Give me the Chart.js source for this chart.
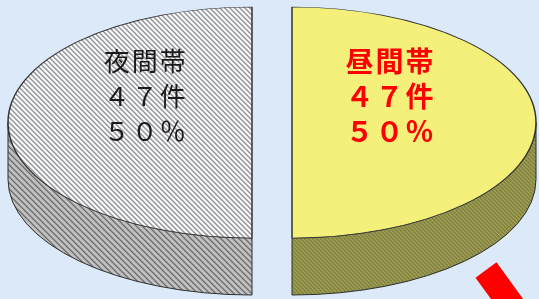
<!DOCTYPE html>
<html>
<head>
<meta charset="utf-8">
<script src="https://cdn.jsdelivr.net/npm/chart.js@4.4.1/dist/chart.umd.min.js"></script>
<style>
html, body { margin: 0; padding: 0; background: #dce9f9; overflow: hidden; }
#wrap { position: relative; width: 539px; height: 299px; }
#redMark { position: absolute; left: 473px; top: 270px; width: 26px; height: 70px; background: #ff0000;
           transform-origin: 50% 0; transform: rotate(-36deg); }
</style>
</head>
<body>
<div id="wrap">
  <canvas id="myChart" width="539" height="299"></canvas>
  <div id="redMark"></div>
</div>
<script>
var categories = ['昼間帯', '夜間帯'];
var counts = [47, 47];
var unit = '件';

var tilt = 0.4734;        // how flat the top face looks
var depth = 57;           // thickness of the disc
var explode = [21, 19];   // how far each slice is pulled out
var textColors = ['#ff0000', '#1a1a1a'];
var textFonts = ['bold 28px "Noto Sans CJK JP"', '26px "Noto Sans CJK JP"'];
var textReach = [0.40, 0.44];

function makePattern(size, base, pixels) {
    var c = document.createElement('canvas');
    c.width = size;
    c.height = size;
    var g = c.getContext('2d');
    g.fillStyle = base;
    g.fillRect(0, 0, size, size);
    pixels.forEach(function(p) {
        g.fillStyle = p[2];
        g.fillRect(p[0], p[1], 1, 1);
    });
    return c;
}

var ctx = document.getElementById("myChart").getContext('2d');

// top of the night slice: grey diagonal hatching
var hatchPx = [];
for (var y = 0; y < 5; y++) {
    hatchPx.push([y, y, '#7a7a7a']);
    hatchPx.push([(y + 1) % 5, y, '#b0b0b0']);
}
var hatchPat = ctx.createPattern(makePattern(5, '#f7f9fc', hatchPx), 'repeat');

// top of the day slice: yellow with faint check
var yellowPat = ctx.createPattern(makePattern(4, '#f4f07c', [
    [0, 0, '#f8f596'], [2, 2, '#f8f596'], [1, 3, '#eee970'], [3, 1, '#eee970']
]), 'repeat');

// sides
var greyPx = [];
for (var y2 = 0; y2 < 6; y2++) {
    greyPx.push([y2, y2, '#6a6a6a']);
    greyPx.push([(y2 + 1) % 6, y2, '#8e8e8e']);
    greyPx.push([(y2 + 3) % 6, y2, '#cdcdcd']);
}
var greySide = ctx.createPattern(makePattern(6, '#b4b4b4', greyPx), 'repeat');
var oliveSide = ctx.createPattern(makePattern(4, '#8c8c47', [
    [0, 0, '#a3a35a'], [1, 1, '#a3a35a'], [2, 2, '#a3a35a'], [3, 3, '#a3a35a'],
    [2, 0, '#7c7c3a'], [0, 2, '#7c7c3a']
]), 'repeat');
var sidePatterns = [oliveSide, greySide];

// keep the patterns square on screen while the top face is squashed
var unsquash = new DOMMatrix([1, 0, 0, 1 / tilt, 0, 0]);
hatchPat.setTransform(unsquash);
yellowPat.setTransform(unsquash);

function fullWidth(s) {
    return String(s).replace(/[0-9%]/g, function(ch) {
        return String.fromCharCode(ch.charCodeAt(0) + 0xFEE0);
    });
}

function midOf(arc) {
    return (arc.startAngle + arc.endAngle) / 2;
}

var discPlugin = {
    id: 'disc',
    beforeDatasetsDraw: function(chart) {
        var c = chart.ctx;
        var arcs = chart.getDatasetMeta(0).data;
        // the visible rim, below the front half of each slice
        arcs.forEach(function(arc, i) {
            var a0 = Math.max(arc.startAngle, 0);
            var a1 = Math.min(arc.endAngle, Math.PI);
            if (a1 <= a0) return;
            var cx = arc.x + Math.cos(midOf(arc)) * explode[i];
            var cy = arc.y;
            var rx = arc.outerRadius, ry = arc.outerRadius * tilt;
            c.save();
            c.beginPath();
            c.ellipse(cx, cy, rx, ry, 0, a0, a1);
            c.ellipse(cx, cy + depth, rx, ry, 0, a1, a0, true);
            c.closePath();
            c.fillStyle = sidePatterns[i];
            c.fill();
            c.strokeStyle = '#2e2e2e';
            c.lineWidth = 1;
            c.stroke();
            c.restore();
        });
        // top faces: the library's own arcs, pulled out and squashed
        arcs.forEach(function(arc, i) {
            var y0 = arc.y;
            c.save();
            c.translate(Math.cos(midOf(arc)) * explode[i], 0);
            c.translate(0, y0);
            c.scale(1, tilt);
            c.translate(0, -y0);
            arc.draw(c);
            c.restore();
        });
        return false;
    },
    afterDraw: function(chart) {
        var c = chart.ctx;
        var arcs = chart.getDatasetMeta(0).data;
        var total = counts.reduce(function(a, b) { return a + b; }, 0);
        arcs.forEach(function(arc, i) {
            var mid = midOf(arc);
            var x = arc.x + Math.cos(mid) * (explode[i] + arc.outerRadius * textReach[i]);
            var y = arc.y - arc.outerRadius * tilt * 0.23;
            var pct = Math.round(counts[i] / total * 100);
            var lines = [categories[i], fullWidth(counts[i]) + unit, fullWidth(pct + '%')];
            c.save();
            c.font = textFonts[i];
            c.letterSpacing = '2px';
            c.fillStyle = textColors[i];
            c.textAlign = 'center';
            c.textBaseline = 'middle';
            lines.forEach(function(t, k) {
                c.fillText(t, x + 1, y + (k - 1) * 35);
            });
            c.restore();
        });
    }
};

var myChart = new Chart(ctx, {
    type: 'pie',
    data: {
        labels: categories,
        datasets: [{
            data: counts,
            backgroundColor: [yellowPat, hatchPat],
            borderColor: '#333333',
            borderWidth: 1.5,
            radius: 244,
            clip: false
        }]
    },
    options: {
        responsive: false,
        animation: false,
        events: [],
        layout: { padding: { left: 3, bottom: 54 } },
        plugins: {
            legend: { display: false },
            tooltip: { enabled: false }
        }
    },
    plugins: [discPlugin]
});
</script>
</body>
</html>
